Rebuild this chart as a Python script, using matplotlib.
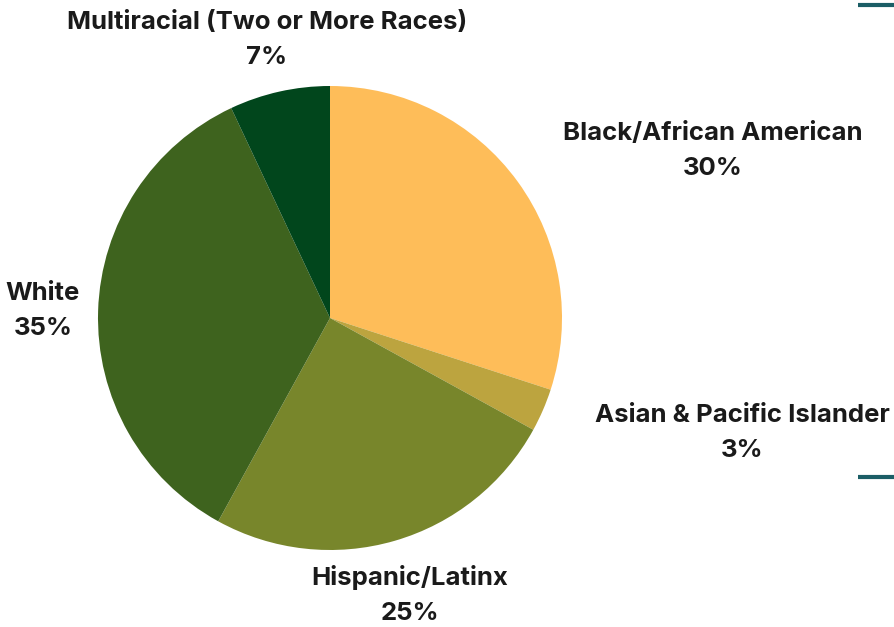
import matplotlib.pyplot as plt

# Share of students by race/ethnicity
groups = ['Black/African American', 'Asian & Pacific Islander', 'Hispanic/Latinx',
          'White', 'Multiracial (Two or More Races)']
shares = [30, 3, 25, 35, 7]
colors = ['#FEBD59', '#BCA43F', '#78862B', '#3E631E', '#01461C']

# label anchor points (pixels from top-left)
label_xy = [(713, 151), (742, 433), (410, 595), (43, 311), (267, 40)]

W, H = 895, 627
fig = plt.figure(figsize=(W / 100, H / 100), dpi=100)
ax = fig.add_axes([0, 0, 1, 1])

ax.pie(shares, colors=colors, startangle=90, counterclock=False,
       center=(330, H - 318), radius=232, frame=True,
       wedgeprops={'linewidth': 0})
ax.set_xlim(0, W)
ax.set_ylim(0, H)
ax.set_aspect('equal')
ax.axis('off')

for name, val, (x, y) in zip(groups, shares, label_xy):
    ax.text(x, H - y, f'{name}\n{val}%', ha='center', va='center',
            fontsize=18.5, fontweight='bold', family='Inter', color='#1a1a1a',
            linespacing=1.68)

# small teal rules on the right edge
ax.plot([858, 895], [H - 5, H - 5], color='#1B5E66', lw=3, solid_capstyle='butt')
ax.plot([858, 895], [H - 477, H - 477], color='#1B5E66', lw=3, solid_capstyle='butt')

fig.savefig('out.png', dpi=100)
